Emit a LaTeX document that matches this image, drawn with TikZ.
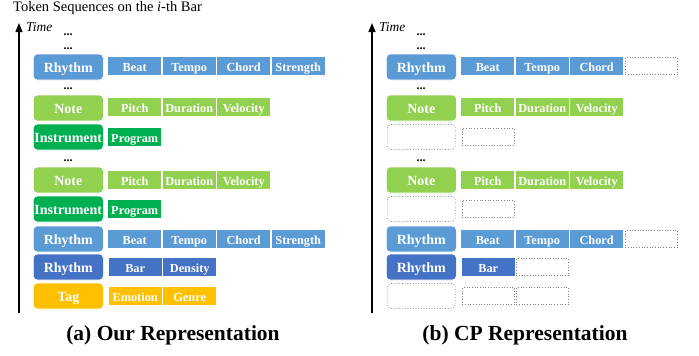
\documentclass[tikz,border=0pt]{standalone}
\usepackage{fontspec}
\setmainfont{Liberation Serif}
\usetikzlibrary{arrows.meta}
\definecolor{lblue}{HTML}{5B9BD5}
\definecolor{dblue}{HTML}{4472C4}
\definecolor{lgreen}{HTML}{92D050}
\definecolor{dgreen}{HTML}{00B050}
\definecolor{gold}{HTML}{FFC000}
\tikzset{
  mainbox/.style={rounded corners=4pt, minimum width=70pt, minimum height=26pt, inner sep=0pt,
    draw=white, line width=0.6pt, text=white, anchor=west, text height=10.8pt, text depth=0pt,
    font=\fontsize{14}{15}\selectfont\bfseries},
  tok/.style={minimum width=53pt, minimum height=18pt, inner sep=0pt, anchor=west,
    text height=10pt, text depth=0pt,
    text=white, font=\fontsize{12.3}{13}\selectfont\bfseries},
  emptymain/.style={rounded corners=4pt, minimum width=68pt, minimum height=25pt, inner sep=0pt,
    draw=gray, dotted, line width=0.7pt, anchor=west},
  emptytok/.style={minimum width=52pt, minimum height=17pt, inner sep=0pt, anchor=west,
    draw=gray, dotted, line width=0.7pt},
  dots/.style={anchor=base, font=\fontsize{12}{13}\selectfont\bfseries, inner sep=0pt},
  timelbl/.style={anchor=west, font=\fontsize{13.5}{14}\selectfont\itshape, inner sep=0pt},
  caption/.style={font=\fontsize{21.5}{23}\selectfont\bfseries, inner sep=0pt},
  axis/.style={line width=1.4pt, -{Triangle[width=7pt,length=9pt]}}
}
\begin{document}
\begin{tikzpicture}[x=1pt,y=-1pt]
\useasboundingbox (0,0) rectangle (699,356);
% ---------- title ----------
\node[anchor=west, inner sep=0pt, font=\fontsize{14.5}{15}\selectfont] (title) at (13,8) {Token Sequences on the \textit{i}-th Bar};
% ---------- panel (a) ----------
\coordinate (aB) at (19,313);
\coordinate (aT) at (19,23);
\draw[axis] (aB) -- (aT);
\node[timelbl] (atime) at (26,27) {Time};
\node[dots] (ad1) at (68,35) {...};
\node[dots] (ad2) at (68,49) {...};
\node[dots] (ad3) at (68,89) {...};
\node[dots] (ad4) at (68,161) {...};
% row 1
\node[mainbox, fill=lblue] (a1) at (33,67) {Rhythm};
\node[tok, fill=lblue] (a1a) at (108,66) {Beat};
\node[tok, fill=lblue] (a1b) at (162.5,66) {Tempo};
\node[tok, fill=lblue] (a1c) at (217,66) {Chord};
\node[tok, fill=lblue] (a1d) at (271.5,66) {Strength};
% row 2
\node[mainbox, fill=lgreen] (a2) at (33,108) {Note};
\node[tok, fill=lgreen] (a2a) at (108,107) {Pitch};
\node[tok, fill=lgreen] (a2b) at (162.5,107) {Duration};
\node[tok, fill=lgreen] (a2c) at (217,107) {Velocity};
% row 3
\node[mainbox, fill=dgreen] (a3) at (33,137) {Instrument};
\node[tok, fill=dgreen] (a3a) at (108,137) {Program};
% row 4
\node[mainbox, fill=lgreen] (a4) at (33,180) {Note};
\node[tok, fill=lgreen] (a4a) at (108,180) {Pitch};
\node[tok, fill=lgreen] (a4b) at (162.5,180) {Duration};
\node[tok, fill=lgreen] (a4c) at (217,180) {Velocity};
% row 5
\node[mainbox, fill=dgreen] (a5) at (33,209) {Instrument};
\node[tok, fill=dgreen] (a5a) at (108,209) {Program};
% row 6
\node[mainbox, fill=lblue] (a6) at (33,239) {Rhythm};
\node[tok, fill=lblue] (a6a) at (108,239) {Beat};
\node[tok, fill=lblue] (a6b) at (162.5,239) {Tempo};
\node[tok, fill=lblue] (a6c) at (217,239) {Chord};
\node[tok, fill=lblue] (a6d) at (271.5,239) {Strength};
% row 7
\node[mainbox, fill=dblue] (a7) at (33,267) {Rhythm};
\node[tok, fill=dblue] (a7a) at (108.5,267) {Bar};
\node[tok, fill=dblue] (a7b) at (163,267) {Density};
% row 8
\node[mainbox, fill=gold] (a8) at (33,296) {Tag};
\node[tok, fill=gold] (a8a) at (108.5,296) {Emotion};
\node[tok, fill=gold] (a8b) at (163,296) {Genre};
\node[caption] (acap) at (173,335) {(a) Our Representation};
% ---------- panel (b) ----------
\coordinate (bB) at (372,313);
\coordinate (bT) at (372,23);
\draw[axis] (bB) -- (bT);
\node[timelbl] (btime) at (379,27) {Time};
\node[dots] (bd1) at (421,35) {...};
\node[dots] (bd2) at (421,49) {...};
\node[dots] (bd3) at (421,89) {...};
\node[dots] (bd4) at (421,161) {...};
% row 1
\node[mainbox, fill=lblue] (b1) at (386,67) {Rhythm};
\node[tok, fill=lblue] (b1a) at (461,66) {Beat};
\node[tok, fill=lblue] (b1b) at (515.5,66) {Tempo};
\node[tok, fill=lblue] (b1c) at (570,66) {Chord};
\node[emptytok] (b1d) at (625,66) {};
% row 2
\node[mainbox, fill=lgreen] (b2) at (386,108) {Note};
\node[tok, fill=lgreen] (b2a) at (461,107) {Pitch};
\node[tok, fill=lgreen] (b2b) at (515.5,107) {Duration};
\node[tok, fill=lgreen] (b2c) at (570,107) {Velocity};
% row 3
\node[emptymain] (b3) at (387,137) {};
\node[emptytok] (b3a) at (461.5,137) {};
% row 4
\node[mainbox, fill=lgreen] (b4) at (386,180) {Note};
\node[tok, fill=lgreen] (b4a) at (461,180) {Pitch};
\node[tok, fill=lgreen] (b4b) at (515.5,180) {Duration};
\node[tok, fill=lgreen] (b4c) at (570,180) {Velocity};
% row 5
\node[emptymain] (b5) at (387,209) {};
\node[emptytok] (b5a) at (461.5,209) {};
% row 6
\node[mainbox, fill=lblue] (b6) at (386,239) {Rhythm};
\node[tok, fill=lblue] (b6a) at (461,239) {Beat};
\node[tok, fill=lblue] (b6b) at (515.5,239) {Tempo};
\node[tok, fill=lblue] (b6c) at (570,239) {Chord};
\node[emptytok] (b6d) at (625,239) {};
% row 7
\node[mainbox, fill=dblue] (b7) at (386,267) {Rhythm};
\node[tok, fill=dblue] (b7a) at (461.5,267) {Bar};
\node[emptytok] (b7b) at (516,267) {};
% row 8
\node[emptymain] (b8) at (387,296) {};
\node[emptytok] (b8a) at (462,296) {};
\node[emptytok] (b8b) at (516,296) {};
\node[caption] (bcap) at (525,335) {(b) CP Representation};
\end{tikzpicture}
\end{document}
